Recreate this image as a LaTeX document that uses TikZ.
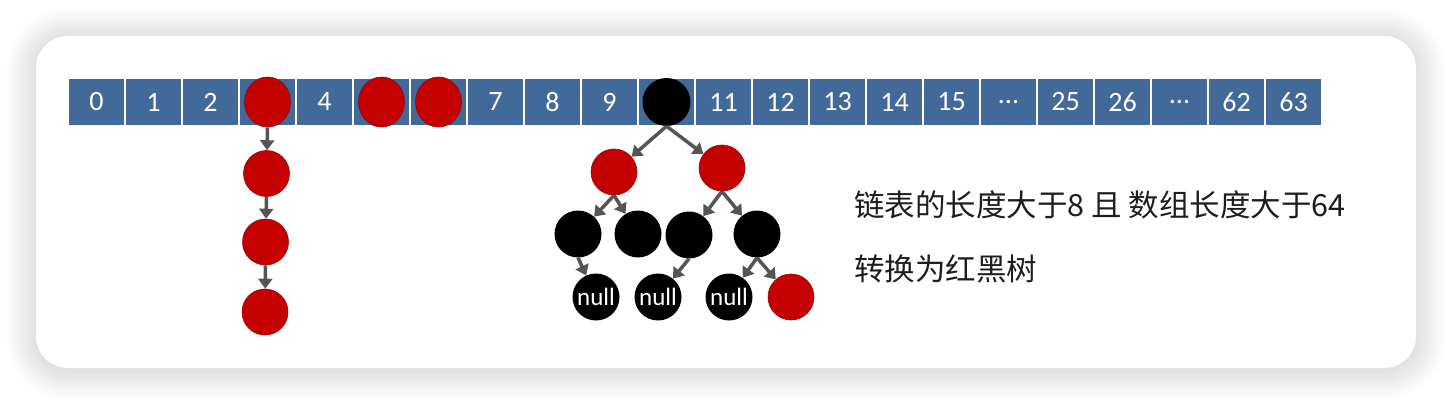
\documentclass[tikz,border=0pt]{standalone}
\usepackage{fontspec}
\setmainfont{Carlito}
\newfontfamily\cjk{Noto Sans CJK SC}
\usetikzlibrary{arrows.meta,shapes.geometric}
\definecolor{cellblue}{RGB}{65,105,153}
\definecolor{nodered}{RGB}{196,0,0}
\definecolor{linkgray}{RGB}{85,85,85}
\definecolor{textdark}{RGB}{30,30,30}
\newcommand\celldots{...}
\begin{document}
\begin{tikzpicture}[x=1pt,y=-1pt,
  cellbox/.style={draw=white,line width=1.5pt,fill=cellblue,minimum width=57pt,minimum height=48pt,
    text=white,font=\fontsize{28}{30}\selectfont,inner sep=0pt},
  rnode/.style={circle,fill=nodered,draw=nodered!80!black,line width=0.6pt,minimum size=46pt,inner sep=0pt},
  bnode/.style={circle,fill=black,minimum size=47pt,inner sep=0pt},
  nullnode/.style={bnode,text=white,font=\fontsize{25}{28}\selectfont},
  slot/.style={ellipse,fill=nodered,draw=nodered!80!black,line width=0.6pt,minimum width=46pt,minimum height=50pt,inner sep=0pt},
  link/.style={draw=linkgray,line width=3.5pt,-{Triangle[width=14pt,length=10pt]}},
  note/.style={anchor=west,text=textdark,font=\cjk\fontsize{30.5}{36}\selectfont,inner sep=0pt}]
\useasboundingbox (0,0) rectangle (1452,404);
\fill[white] (0,0) rectangle (1452,404);
\foreach \k in {1,...,30}
  \fill[black,opacity=0.0045,rounded corners={32+\k}] ({36-\k},{38-\k}) rectangle ({1416+\k},{370+\k});
\fill[white,rounded corners=32pt] (36,36) rectangle (1416,368);
\foreach \lab [count=\i from 0] in {0,1,2,,4,,,7,8,9,,11,12,13,14,15,\celldots,25,26,\celldots,62,63}
  \node[cellbox] (c\i) at ({96.5+57*\i},102) {\lab};
\node[slot] (h3) at (c3) {};
\node[slot] (h5) at (c5) {};
\node[slot] (h6) at (c6) {};
\node[bnode,minimum size=48pt] (t0) at (c10) {};
\node[rnode] (l1) at (266.5,173.5) {};
\node[rnode] (l2) at (265.5,242) {};
\node[rnode] (l3) at (265,312) {};
\draw[link] (h3.south) -- (l1);
\draw[link] (l1.south) -- (l2);
\draw[link] (l2.south) -- (l3);
\node[rnode] (t1) at (614,172) {};
\node[rnode] (t2) at (722,168) {};
\node[bnode] (t3) at (578,234) {};
\node[bnode] (t4) at (638,234) {};
\node[bnode] (t5) at (689,235) {};
\node[bnode] (t6) at (757,234) {};
\node[nullnode] (n1) at (596,297) {null};
\node[nullnode] (n2) at (658,297) {null};
\node[nullnode] (n3) at (729,297) {null};
\node[rnode] (t7) at (791,297) {};
\draw[link] (t0.south) -- (t1);
\draw[link] (t0.south) -- (t2);
\draw[link] (t1.south) -- (t3);
\draw[link] (t1.south) -- (t4);
\draw[link] (t2.south) -- (t5);
\draw[link] (t2.south) -- (t6);
\draw[link] (t3.south) -- (n1);
\draw[link] (t5.south) -- (n2);
\draw[link] (t6.south) -- (n3);
\draw[link] (t6.south) -- (t7);
\node[note] (cond) at (854,205) {链表的长度大于8 且 数组长度大于64};
\node[note] (conv) at (854,269) {转换为红黑树};
\end{tikzpicture}
\end{document}
